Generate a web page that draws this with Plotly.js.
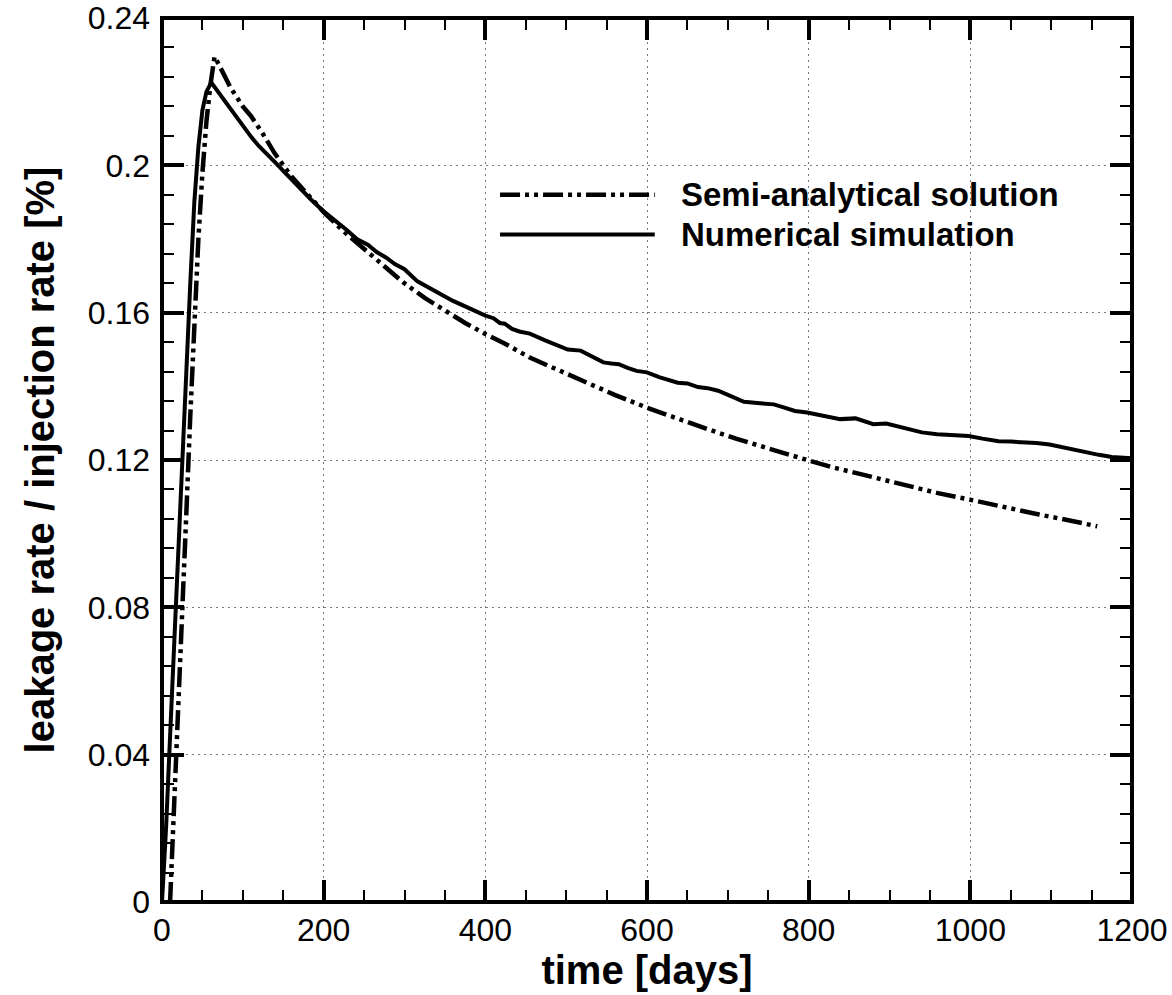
<!DOCTYPE html>
<html>
<head>
<meta charset="utf-8">
<script src="https://cdn.plot.ly/plotly-3.0.1.min.js"></script>
<style>html,body{margin:0;padding:0;background:#fff;}#chart{width:1172px;height:995px;}</style>
</head>
<body>
<div id="chart"></div>
<script>
// Numerical simulation (solid)
var numT = [0,5,10,15,20,25,30,35,40,45,50,55,61,70,80,90,100,110,120,130,140,150,160,172,184,200,215,230,241,255,266,277,288,300,316,330,345,360,373,387,400,410,418,424,433,442,455,474,490,502,518,532,546,556,565,576,587,600,615,638,650,663,675,688,700,720,740,757,770,783,798,815,839,858,870,880,896,920,940,959,980,998,1015,1035,1050,1067,1082,1098,1115,1130,1145,1159,1175,1190,1200];
var numV = [0,0.02,0.045,0.07,0.097,0.122,0.146,0.168,0.19,0.205,0.215,0.22,0.2225,0.2198,0.2168,0.2137,0.2107,0.2078,0.2052,0.2028,0.2008,0.1985,0.1962,0.1935,0.1908,0.1875,0.1850,0.1822,0.1800,0.1784,0.1764,0.1750,0.1732,0.1718,0.1685,0.1668,0.1650,0.1632,0.1619,0.1605,0.1592,0.1585,0.1572,0.1570,0.1556,0.1549,0.1543,0.1525,0.1512,0.1500,0.1497,0.1480,0.1465,0.1462,0.1460,0.1450,0.1442,0.1438,0.1425,0.1410,0.1408,0.1398,0.1395,0.1388,0.1377,0.1358,0.1354,0.1351,0.1342,0.1333,0.1329,0.1322,0.1311,0.1313,0.1303,0.1297,0.1299,0.1285,0.1275,0.1270,0.1268,0.1265,0.1258,0.1251,0.1250,0.1249,0.1246,0.1242,0.1234,0.1225,0.1219,0.1214,0.1208,0.1206,0.1205];

// Semi-analytical solution (dash-dot-dot)
var semiT = [10,15,20,25,30,35,40,45,50,55,60,65,70,85,100,110,125,139,160,184,200,225,254,275,298,325,354,375,400,425,455,490,524,560,600,640,676,710,739,770,798,830,865,895,928,960,998,1040,1085,1120,1157];
var semiV = [0,0.025,0.05,0.078,0.105,0.132,0.158,0.18,0.198,0.212,0.222,0.2295,0.2275,0.221,0.216,0.2134,0.2085,0.2034,0.1970,0.1913,0.1873,0.1820,0.1764,0.1725,0.1683,0.1640,0.1600,0.1572,0.1542,0.1515,0.1478,0.1445,0.1410,0.1377,0.1342,0.1310,0.1283,0.1258,0.1238,0.1218,0.1200,0.1180,0.1161,0.1143,0.1125,0.1110,0.1093,0.1072,0.1052,0.1037,0.1020];

var xTickVals = [0,200,400,600,800,1000,1200];
var xTickText = ["0","200","400","600","800","1000","1200"];
var yTickVals = [0,0.04,0.08,0.12,0.16,0.2,0.24];
var yTickText = ["0","0.04","0.08","0.12","0.16","0.2","0.24"];

var seriesNames = ["Semi-analytical solution","Numerical simulation"];
var xTitle = "time [days]";
var yTitle = "leakage rate / injection rate [%]";

var FONT = "Liberation Sans, Arial, Helvetica, sans-serif";
var dashPattern = "20px,5px,4px,5px,4px,5px";

var traces = [
  {x: semiT, y: semiV, mode: "lines", name: seriesNames[0],
   line: {color: "#000", width: 4.5, dash: dashPattern}},
  {x: numT, y: numV, mode: "lines", name: seriesNames[1],
   line: {color: "#000", width: 4}}
];

function axisBase() {
  return {
    ticks: "inside", ticklen: 22, tickwidth: 4, tickcolor: "#000",
    mirror: "allticks", showline: false, zeroline: false,
    showgrid: true, gridcolor: "#7a7a7a", gridwidth: 1, griddash: "2px,4px",
    tickfont: {family: FONT, size: 32, color: "#000"},
    tickmode: "array", automargin: false, ticklabeloverflow: "allow"
  };
}

var xa = axisBase();
xa.range = [0, 1200];
xa.tickvals = xTickVals; xa.ticktext = xTickText;
xa.minor = {tickmode: "linear", tick0: 0, dtick: 50, ticks: "inside", ticklen: 12, tickwidth: 2, tickcolor: "#000", showgrid: false};
xa.title = {text: xTitle, font: {family: FONT, size: 40, color: "#000", weight: "bold"}, standoff: 4};
xa.ticklabelstandoff = 6;

var ya = axisBase();
ya.range = [0, 0.24];
ya.tickvals = yTickVals; ya.ticktext = yTickText;
ya.minor = {tickmode: "linear", tick0: 0, dtick: 0.008, ticks: "inside", ticklen: 12, tickwidth: 2, tickcolor: "#000", showgrid: false};
ya.title = {text: yTitle, font: {family: FONT, size: 40, color: "#000", weight: "bold"}, standoff: 20};
ya.ticklabelstandoff = 11;

// legend drawn as a key inside the plot (paper coordinates)
var legY = [0.800, 0.755];
var legX0 = 0.3485, legX1 = 0.508, legTextX = 0.533;

var layout = {
  width: 1172, height: 995,
  margin: {l: 162, r: 40, t: 18, b: 93, pad: 0},
  paper_bgcolor: "#fff", plot_bgcolor: "#fff",
  showlegend: false,
  xaxis: xa, yaxis: ya,
  shapes: [
    {type: "rect", xref: "paper", yref: "paper", x0: 0, x1: 1, y0: 0, y1: 1,
     line: {color: "#000", width: 4}, layer: "above"},
    {type: "line", xref: "paper", yref: "paper", x0: legX0, x1: legX1, y0: legY[0], y1: legY[0],
     line: {color: "#000", width: 4.5, dash: dashPattern}},
    {type: "line", xref: "paper", yref: "paper", x0: legX0, x1: legX1, y0: legY[1], y1: legY[1],
     line: {color: "#000", width: 4}}
  ],
  annotations: [
    {xref: "paper", yref: "paper", x: legTextX, y: legY[0], xanchor: "left", yanchor: "middle",
     text: seriesNames[0], showarrow: false, font: {family: FONT, size: 33, color: "#000", weight: "bold"}},
    {xref: "paper", yref: "paper", x: legTextX, y: legY[1], xanchor: "left", yanchor: "middle",
     text: seriesNames[1], showarrow: false, font: {family: FONT, size: 33, color: "#000", weight: "bold"}}
  ]
};

Plotly.newPlot("chart", traces, layout, {displayModeBar: false, staticPlot: true});
</script>
</body>
</html>
